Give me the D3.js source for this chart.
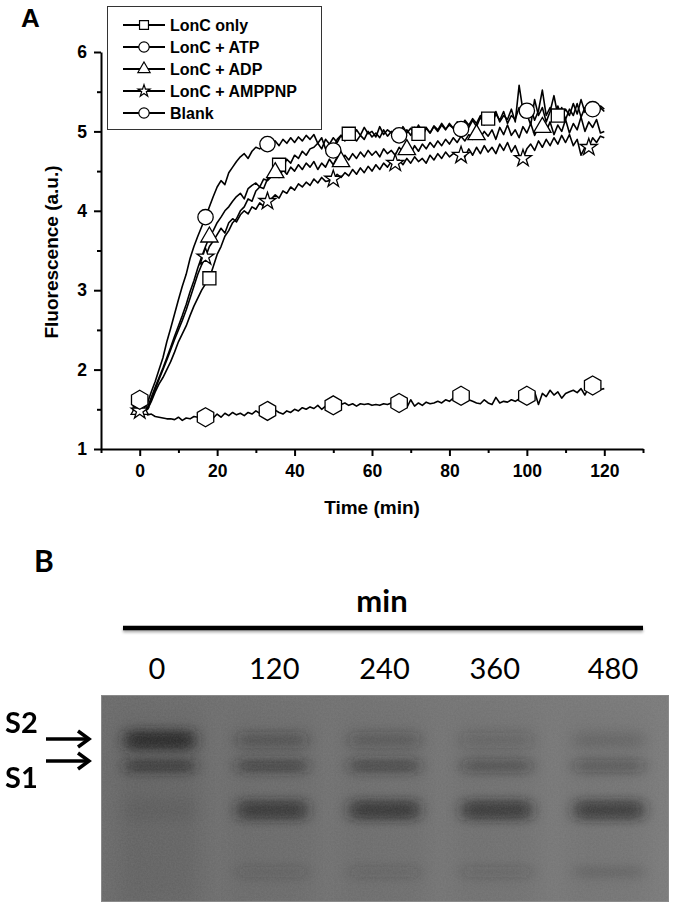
<!DOCTYPE html>
<html><head><meta charset="utf-8">
<script src="https://cdn.jsdelivr.net/npm/d3@7"></script>
<style>body{margin:0;background:#fff}svg{display:block}</style>
</head><body>
<svg id="c" width="673" height="907"></svg>
<script>
// ---------- Panel A data ----------
const seriesNames = ["LonC only","LonC + ATP","LonC + ADP","LonC + AMPPNP","Blank"];
const timeMin = d3.range(0,121); // 1-min sampling grid
const lonCOnly = [1.55,1.52,1.50,1.60,1.72,1.82,1.90,2.00,2.10,2.22,
2.35,2.45,2.55,2.68,2.80,2.90,3.00,3.08,3.15,3.30,
3.45,3.55,3.68,3.75,3.85,3.90,4.00,4.05,4.15,4.12,
4.25,4.30,4.28,4.40,4.45,4.50,4.58,4.55,4.65,4.60,
4.70,4.66,4.75,4.70,4.78,4.80,4.85,4.78,4.90,4.84,
4.92,4.86,4.95,4.90,4.97,4.92,4.88,4.95,4.90,5.00,
4.93,4.98,4.92,5.02,4.94,5.00,4.96,4.92,4.98,5.02,
4.95,5.05,4.97,4.93,5.04,4.98,5.06,5.00,5.08,5.02,
5.10,5.04,5.12,5.06,5.14,5.08,5.16,5.10,5.20,5.12,
5.16,5.10,5.22,5.14,5.25,5.10,5.20,5.15,5.30,5.18,
5.22,5.08,5.40,5.20,5.30,5.12,5.25,5.45,5.20,5.30,
5.15,5.28,5.20,5.35,5.18,5.30,5.22,5.26,5.20,5.30,
5.25];
const lonCATP = [1.60,1.55,1.58,1.72,1.85,2.00,2.15,2.35,2.52,2.70,
2.88,3.05,3.20,3.40,3.55,3.68,3.80,3.92,4.05,4.18,
4.30,4.38,4.33,4.48,4.55,4.62,4.68,4.72,4.66,4.75,
4.80,4.78,4.82,4.84,4.80,4.88,4.82,4.90,4.85,4.92,
4.86,4.93,4.88,4.95,4.90,4.96,4.85,4.92,4.78,4.76,
4.76,4.90,4.95,4.88,5.00,4.93,5.02,4.95,5.05,4.97,
5.00,4.93,5.06,4.96,5.02,4.98,4.94,4.95,5.06,4.98,
5.04,4.97,5.08,5.00,5.05,4.98,5.07,5.02,5.10,5.03,
5.08,5.04,5.06,5.03,5.12,5.05,5.14,5.06,5.18,5.08,
5.22,5.10,5.25,5.12,5.20,5.15,5.28,5.12,5.58,5.26,
5.26,5.30,5.14,5.26,5.52,5.20,5.30,5.15,5.32,5.18,
5.28,5.20,5.35,5.22,5.40,5.24,5.30,5.28,5.22,5.32,
5.28];
const lonCADP = [1.50,1.48,1.52,1.65,1.78,1.90,2.02,2.15,2.28,2.42,
2.55,2.68,2.82,2.98,3.12,3.28,3.42,3.55,3.67,3.75,
3.85,3.92,4.00,4.05,4.12,4.18,4.22,4.15,4.28,4.32,
4.35,4.30,4.40,4.38,4.43,4.48,4.42,4.52,4.46,4.55,
4.50,4.58,4.52,4.60,4.55,4.62,4.52,4.60,4.55,4.65,
4.58,4.68,4.62,4.70,4.64,4.72,4.66,4.74,4.68,4.76,
4.70,4.75,4.68,4.78,4.72,4.76,4.70,4.80,4.74,4.77,
4.72,4.82,4.75,4.84,4.78,4.86,4.80,4.88,4.82,4.90,
4.84,4.92,4.86,4.94,4.88,4.96,4.90,4.96,4.92,5.00,
4.94,5.02,4.90,5.05,4.96,5.08,4.95,5.02,4.92,5.06,
4.98,5.10,4.95,5.05,5.05,5.00,5.12,4.96,5.08,5.00,
5.15,4.98,5.10,5.02,5.18,5.00,5.12,5.05,5.15,4.98,
5.00];
const lonCAMPPNP = [1.48,1.45,1.50,1.62,1.75,1.88,2.00,2.12,2.25,2.38,
2.50,2.62,2.75,2.90,3.05,3.20,3.32,3.42,3.55,3.62,
3.70,3.78,3.72,3.85,3.90,3.86,3.95,4.00,3.96,4.05,
4.02,4.10,4.06,4.12,4.15,4.20,4.16,4.25,4.22,4.30,
4.26,4.34,4.30,4.36,4.32,4.40,4.35,4.42,4.37,4.38,
4.40,4.46,4.42,4.48,4.44,4.52,4.46,4.54,4.48,4.56,
4.50,4.58,4.52,4.60,4.55,4.62,4.60,4.64,4.58,4.66,
4.60,4.68,4.62,4.66,4.60,4.70,4.64,4.72,4.66,4.74,
4.68,4.72,4.70,4.70,4.68,4.78,4.70,4.80,4.72,4.82,
4.74,4.80,4.72,4.84,4.76,4.86,4.74,4.82,4.70,4.66,
4.78,4.84,4.76,4.88,4.80,4.90,4.82,4.92,4.84,4.95,
4.86,4.96,4.82,4.90,4.70,4.80,4.80,4.92,4.86,4.94,
4.92];
const blank = [1.62,1.50,1.43,1.44,1.41,1.40,1.39,1.38,1.38,1.37,
1.40,1.36,1.39,1.38,1.41,1.40,1.39,1.40,1.43,1.39,
1.44,1.40,1.45,1.42,1.46,1.43,1.45,1.42,1.46,1.44,
1.48,1.45,1.47,1.48,1.46,1.49,1.46,1.44,1.48,1.46,
1.50,1.48,1.52,1.50,1.53,1.51,1.55,1.50,1.54,1.55,
1.55,1.52,1.56,1.58,1.55,1.57,1.54,1.57,1.56,1.57,
1.55,1.56,1.55,1.57,1.56,1.58,1.57,1.58,1.60,1.52,
1.62,1.54,1.58,1.55,1.59,1.57,1.58,1.60,1.58,1.62,
1.60,1.64,1.66,1.67,1.65,1.62,1.60,1.58,1.57,1.62,
1.58,1.56,1.65,1.58,1.60,1.59,1.62,1.60,1.63,1.66,
1.67,1.65,1.72,1.56,1.70,1.66,1.74,1.68,1.72,1.64,
1.70,1.72,1.74,1.71,1.76,1.68,1.78,1.80,1.77,1.75,
1.76];
const markerIdx = [
  [0,18,36,54,72,90,108],
  [0,17,33,50,67,83,100,117],
  [0,18,35,52,69,87,104],
  [0,17,33,50,66,83,99,116],
  [0,17,33,50,67,83,100,117]
];
const yTicks = [1,2,3,4,5,6];
const yMinor = [1.5,2.5,3.5,4.5,5.5];
const xTicks = [0,20,40,60,80,100,120];
const xMinor = [-10,10,30,50,70,90,110,130];

// ---------- Panel B data ----------
const laneLabels = ["0","120","240","360","480"];
const bandNames = ["S2","S1","P1","P2"];
const bandMobility = [0.218, 0.343, 0.555, 0.855];
const bandS2 = [0.88,0.32,0.27,0.17,0.12];
const bandS1 = [0.64,0.54,0.52,0.38,0.32];
const bandP1 = [0.06,0.66,0.68,0.66,0.64];
const bandP2 = [0.00,0.18,0.18,0.18,0.15];

// ---------- Drawing ----------
const svg = d3.select("#c");
const F = "'Liberation Sans', Arial, sans-serif";
const FB = "Lato, 'Open Sans', sans-serif";
const allSeries = [lonCOnly, lonCATP, lonCADP, lonCAMPPNP, blank];

const x = d3.scaleLinear([-10,130],[101,643]);
const y = d3.scaleLinear([1,6],[449,52]);

svg.append("text").attr("x",21).attr("y",27).attr("font-family",F).attr("font-weight","bold")
  .attr("font-size",26).text("A");

function styleAxis(g){
  g.select(".domain").attr("stroke","#000").attr("stroke-width",2);
  g.selectAll(".tick line").attr("stroke","#000").attr("stroke-width",2);
  g.selectAll("text").attr("font-family",F).attr("font-weight","bold").attr("font-size",17.5).attr("fill","#000");
}
const gy = svg.append("g").attr("transform","translate(101,0)")
  .call(d3.axisLeft(y).tickValues(yTicks).tickSize(7).tickSizeOuter(0).tickPadding(7).tickFormat(d3.format("d")));
styleAxis(gy);
const gym = svg.append("g").attr("transform","translate(101,0)")
  .call(d3.axisLeft(y).tickValues(yMinor).tickSize(4).tickSizeOuter(0).tickFormat(""));
styleAxis(gym); gym.select(".domain").remove();
const gx = svg.append("g").attr("transform","translate(0,449)")
  .call(d3.axisBottom(x).tickValues(xTicks).tickSize(7).tickSizeOuter(0).tickPadding(9).tickFormat(d3.format("d")));
styleAxis(gx);
const gxm = svg.append("g").attr("transform","translate(0,449)")
  .call(d3.axisBottom(x).tickValues(xMinor).tickSize(4).tickSizeOuter(0).tickFormat(""));
styleAxis(gxm); gxm.select(".domain").remove();

svg.append("text").attr("x",372).attr("y",514).attr("text-anchor","middle")
  .attr("font-family",F).attr("font-weight","bold").attr("font-size",19).text("Time (min)");
svg.append("text").attr("transform","translate(58,252) rotate(-90)").attr("text-anchor","middle")
  .attr("font-family",F).attr("font-weight","bold").attr("font-size",19).text("Fluorescence (a.u.)");

function hexPath(r){
  const pts = d3.range(6).map(i=>{const a=Math.PI/3*i; return [r*Math.sin(a), -r*Math.cos(a)];});
  return d3.line()(pts)+"Z";
}
const symPlot = [
  d3.symbol(d3.symbolSquare,170)(),
  d3.symbol(d3.symbolCircle,185)(),
  d3.symbol(d3.symbolTriangle,130)(),
  d3.symbol(d3.symbolStar,90)(),
  hexPath(9.5)
];
const symLegend = [
  d3.symbol(d3.symbolSquare,80)(),
  d3.symbol(d3.symbolCircle,85)(),
  d3.symbol(d3.symbolTriangle,65)(),
  d3.symbol(d3.symbolStar,45)(),
  d3.symbol(d3.symbolCircle,85)()
];

const line = d3.line().x((d,i)=>x(timeMin[i])).y(d=>y(d));
allSeries.forEach((s,k)=>{
  svg.append("path").datum(s).attr("d",line).attr("fill","none")
    .attr("stroke","#000").attr("stroke-width",1.6).attr("stroke-linejoin","round");
});
allSeries.forEach((s,k)=>{
  svg.append("g").selectAll("path").data(markerIdx[k]).join("path")
    .attr("transform",i=>`translate(${x(timeMin[i])},${y(s[i])})`)
    .attr("d",symPlot[k]).attr("fill","#fff").attr("stroke","#000").attr("stroke-width",1.3);
});

const lg = svg.append("g");
lg.append("rect").attr("x",107.5).attr("y",6.5).attr("width",214).attr("height",123)
  .attr("fill","#fff").attr("stroke","#333").attr("stroke-width",1);
seriesNames.forEach((n,k)=>{
  const ly = 25 + k*22;
  lg.append("line").attr("x1",123).attr("x2",165).attr("y1",ly).attr("y2",ly).attr("stroke","#000").attr("stroke-width",1.8);
  lg.append("path").attr("transform",`translate(144,${ly})`).attr("d",symLegend[k])
    .attr("fill","#fff").attr("stroke","#000").attr("stroke-width",1.2);
  lg.append("text").attr("x",170).attr("y",ly).attr("dy","0.36em").attr("font-family",F)
    .attr("font-weight","bold").attr("font-size",16).text(n);
});

// ---------- Panel B ----------
svg.append("text").attr("x",34).attr("y",572).attr("font-family",FB).attr("font-weight","bold")
  .attr("font-size",30).text("B");
const defs = svg.append("defs");
const sh = defs.append("filter").attr("id","sh").attr("filterUnits","userSpaceOnUse")
  .attr("x",110).attr("y",615).attr("width",550).attr("height",30);
sh.append("feGaussianBlur").attr("in","SourceAlpha").attr("stdDeviation",1.5).attr("result","b");
sh.append("feOffset").attr("in","b").attr("dy",2).attr("result","o");
sh.append("feComponentTransfer").attr("in","o").attr("result","o2").append("feFuncA").attr("type","linear").attr("slope",0.35);
const m = sh.append("feMerge"); m.append("feMergeNode").attr("in","o2"); m.append("feMergeNode").attr("in","SourceGraphic");

svg.append("text").attr("x",382).attr("y",612).attr("text-anchor","middle").attr("font-family",FB)
  .attr("font-weight","bold").attr("font-size",31).text("min");
svg.append("line").attr("x1",123).attr("x2",643).attr("y1",628).attr("y2",628)
  .attr("stroke","#000").attr("stroke-width",4.5).attr("filter","url(#sh)");

const lx = d3.scalePoint(laneLabels,[160,609]);
const labelShift = [-3,2,0,-2,4];
svg.append("g").selectAll("text").data(laneLabels).join("text")
  .attr("x",(d,i)=>lx(d)+labelShift[i]).attr("y",679).attr("text-anchor","middle").attr("font-family",FB)
  .attr("font-size",29).text(d=>d);

const gel = {x0:101,x1:669,y0:695,y1:902};
const by = d3.scaleLinear([0,1],[gel.y0,gel.y1]);
const grad = defs.append("linearGradient").attr("id","gg").attr("x1","0").attr("x2","1").attr("y1","0").attr("y2","0");
grad.append("stop").attr("offset","0").attr("stop-color","#686868");
grad.append("stop").attr("offset","0.5").attr("stop-color","#707070");
grad.append("stop").attr("offset","1").attr("stop-color","#797979");
const clip = defs.append("clipPath").attr("id","gc");
clip.append("rect").attr("x",gel.x0).attr("y",gel.y0).attr("width",gel.x1-gel.x0).attr("height",gel.y1-gel.y0);
const blur = defs.append("filter").attr("id","bl").attr("filterUnits","userSpaceOnUse")
  .attr("x",gel.x0-20).attr("y",gel.y0-20).attr("width",gel.x1-gel.x0+40).attr("height",gel.y1-gel.y0+40);
blur.append("feGaussianBlur").attr("stdDeviation","7 5");
const blur2 = defs.append("filter").attr("id","bl2").attr("filterUnits","userSpaceOnUse")
  .attr("x",gel.x0-40).attr("y",gel.y0-40).attr("width",gel.x1-gel.x0+80).attr("height",gel.y1-gel.y0+80);
blur2.append("feGaussianBlur").attr("stdDeviation","10 14");
const grain = defs.append("filter").attr("id","gr");
grain.append("feTurbulence").attr("type","fractalNoise").attr("baseFrequency",0.6).attr("numOctaves",2).attr("seed",3);
grain.append("feColorMatrix").attr("type","matrix").attr("values","0 0 0 0 0.45  0 0 0 0 0.45  0 0 0 0 0.45  0 0 0 0.35 0");
grain.append("feComposite").attr("in2","SourceGraphic").attr("operator","in");

const gg = svg.append("g").attr("clip-path","url(#gc)");
gg.append("rect").attr("x",gel.x0).attr("y",gel.y0).attr("width",gel.x1-gel.x0).attr("height",gel.y1-gel.y0)
  .attr("fill","url(#gg)");
gg.append("g").attr("filter","url(#bl2)").selectAll("rect").data(laneLabels).join("rect")
  .attr("x",d=>lx(d)-40).attr("y",gel.y0+20).attr("width",80).attr("height",gel.y1-gel.y0-10)
  .attr("fill","#000").attr("opacity",(d,i)=>i===0?0.08:0.04);
const bandData = [bandS2,bandS1,bandP1,bandP2];
const bandH = [16,13,20,10];
const bandG = gg.append("g").attr("filter","url(#bl)");
bandData.forEach((arr,b)=>{
  bandG.append("g").selectAll("rect").data(arr).join("rect")
    .attr("x",(v,i)=>lx(laneLabels[i])-35).attr("width",70)
    .attr("y",(v,i)=>by(bandMobility[b])-((b===0&&i===0)?20:bandH[b])/2)
    .attr("height",(v,i)=>(b===0&&i===0)?20:bandH[b])
    .attr("rx",6).attr("fill","#1c1c1c").attr("opacity",v=>v);
});
gg.append("rect").attr("x",gel.x0).attr("y",gel.y0).attr("width",gel.x1-gel.x0).attr("height",gel.y1-gel.y0)
  .attr("fill","#777").attr("filter","url(#gr)").attr("opacity",0.5);
svg.append("rect").attr("x",gel.x0+0.5).attr("y",gel.y0+0.5).attr("width",gel.x1-gel.x0-1).attr("height",gel.y1-gel.y0-1)
  .attr("fill","none").attr("stroke","#8a8a8a").attr("stroke-width",1);

svg.append("text").attr("x",5).attr("y",733).attr("font-family",FB).attr("font-weight","bold").attr("font-size",29).text("S2");
svg.append("text").attr("x",5).attr("y",788).attr("font-family",FB).attr("font-weight","bold").attr("font-size",29).text("S1");
[739,761].forEach(ay=>{
  const a = svg.append("g").attr("stroke","#000").attr("stroke-width",3.5).attr("fill","none");
  a.append("line").attr("x1",46).attr("x2",88).attr("y1",ay).attr("y2",ay);
  a.append("polyline").attr("points",`${78},${ay-8} ${89},${ay} ${78},${ay+8}`).attr("stroke-linejoin","miter");
});
</script>
</body></html>
